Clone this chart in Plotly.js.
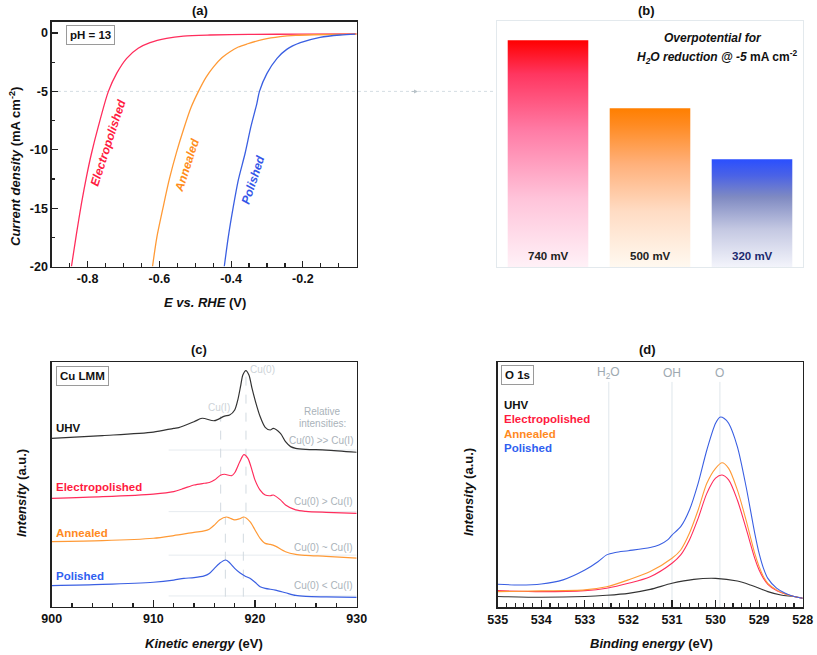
<!DOCTYPE html>
<html>
<head>
<meta charset="utf-8">
<script src="https://cdn.plot.ly/plotly-3.0.1.min.js"></script>
<style>
html,body{margin:0;padding:0;background:#fff;}
#chart{width:817px;height:655px;}
</style>
</head>
<body>
<div id="chart"></div>
<script>
// ---------- Panel (a): polarisation curves ----------
const aElectroE = [-0.845,-0.831,-0.817,-0.803,-0.789,-0.770,-0.742,-0.719,-0.691,-0.659,-0.626,-0.580,-0.533,-0.459,-0.350,-0.200,-0.050];
const aElectroJ = [-20,-17.2,-14.6,-12.3,-10.3,-8.0,-5.0,-3.46,-2.17,-1.31,-0.83,-0.46,-0.26,-0.17,-0.12,-0.10,-0.08];
const aAnnealE = [-0.619,-0.607,-0.590,-0.572,-0.552,-0.532,-0.512,-0.491,-0.470,-0.449,-0.425,-0.403,-0.380,-0.356,-0.310,-0.263,-0.220,-0.170,-0.050];
const aAnnealJ = [-20,-17.5,-15.0,-12.5,-10.2,-8.2,-6.4,-5.0,-3.8,-2.9,-2.1,-1.6,-1.2,-0.94,-0.54,-0.31,-0.20,-0.15,-0.10];
const aPolishE = [-0.419,-0.408,-0.394,-0.380,-0.361,-0.345,-0.328,-0.321,-0.300,-0.272,-0.245,-0.207,-0.152,-0.096,-0.054];
const aPolishJ = [-20,-17.5,-14.9,-12.6,-10.3,-8.04,-6.0,-5.0,-3.46,-2.17,-1.4,-0.83,-0.37,-0.17,-0.10];
const aXTickVals = [-0.8,-0.6,-0.4,-0.2];
const aXTickText = ['-0.8','-0.6','-0.4','-0.2'];
const aYTickVals = [-20,-15,-10,-5,0];
const aYTickText = ['-20','-15','-10','-5','0'];

// ---------- Panel (b): overpotential bars ----------
const bCategories = ['Electropolished','Annealed','Polished'];
const bValues = [740, 500, 320];
const bLabels = ['740 mV','500 mV','320 mV'];

// ---------- Panel (c): Cu LMM ----------
const cUhvX = [900,905,910,912,912.5,914,914.8,916,917,917.5,918,918.3,918.6,918.8,919.1,919.4,919.7,920,920.5,921,921.5,921.8,922.5,923,923.5,924,925,927,930];
const cUhvY = [68.9,70.0,71.4,73.0,73.3,75.7,77.1,76.1,78.0,78.4,80.5,84.5,90.7,94.8,96.6,94.8,89.4,84.6,77.8,73.4,72.3,73.0,70.9,67.5,65.5,64.8,64.4,64.1,63.2];
const cElX = [900,905,910,912,913,914,915,915.5,916,916.6,917,917.7,918,918.5,918.9,919.3,919.7,920,920.5,921,921.5,921.8,922.5,923,924,925,927,930];
const cElY = [44.3,45.0,46.1,47.1,48.4,49.8,50.5,50.8,51.8,53.8,54.2,53.6,54.8,59.3,62.2,60.7,55.9,51.8,47.7,45.7,45.4,45.7,43.7,41.6,39.6,39.0,38.6,38.2];
const cAnX = [900,905,910,912,914,915,915.5,916,916.5,917.2,917.5,918,918.5,918.9,919.5,920,920.5,921,921.5,922,923,924,925,927,930];
const cAnY = [26.6,27.0,28.0,29.1,30.4,31.0,31.7,33.4,35.5,36.7,36.3,35.5,36.0,36.7,34.8,31.4,28.0,25.9,25.5,24.8,22.5,21.4,21.0,20.6,19.9];
const cPoX = [900,905,910,912,913,914,915,915.5,916,916.5,917.1,917.5,918,918.5,919,919.5,920,920.5,921,922,923,924,925,927,930];
const cPoY = [8.6,9.1,10.0,10.9,11.6,11.9,12.6,13.6,15.7,17.7,19.1,18.0,15.7,13.9,12.6,11.6,10.0,8.2,7.5,6.8,5.7,4.6,4.2,4.0,3.8];
const cBaselines = [64.1, 38.9, 21.1, 4.4];
const cRatioText = ['Cu(0) >> Cu(I)','Cu(0) > Cu(I)','Cu(0) ~ Cu(I)','Cu(0) < Cu(I)'];
const cRatioY = [68.2, 43.0, 24.1, 8.6];
const cTickVals = [900,910,920,930];

// ---------- Panel (d): O 1s ----------
const dPoX = [535,534.5,534,533.5,533,532.7,532.5,532.3,532,531.5,531.3,531.1,531,530.8,530.6,530.4,530.2,530.0,529.9,529.8,529.7,529.5,529.3,529.1,529.0,528.9,528.8,528.6,528.4,528.2,528];
const dPoY = [9.4,9.1,9.5,11.2,15.2,18.6,21.4,22.4,23.1,24.4,25.4,27.5,29.5,32.9,39.7,50.6,64.2,75.1,77.6,77.1,75.1,65.6,49.3,30.2,22.0,15.9,11.8,7.8,5.7,4.4,3.7];
const dAnX = [535,534,533,532.5,532,531.5,531,530.8,530.6,530.4,530.2,530.0,529.85,529.7,529.5,529.3,529.1,529.0,528.9,528.8,528.6,528.4,528.2,528];
const dAnY = [6.4,6.7,7.1,8.4,11.2,14.6,20.0,23.4,30.2,39.7,50.6,56.7,59.0,56.7,47.9,35.6,22.0,16.6,12.5,9.8,7.1,5.4,4.4,3.7];
const dElX = [535,534,533,532.5,532,531.5,531,530.8,530.6,530.4,530.2,530.0,529.85,529.7,529.5,529.3,529.1,529.0,528.9,528.8,528.6,528.4,528.2,528];
const dElY = [6.8,6.4,6.8,7.8,9.8,12.5,18.0,21.4,27.5,36.3,46.5,52.7,54.0,52.0,43.8,32.2,20.0,15.2,11.8,9.4,6.8,5.4,4.4,3.7];
const dUhvX = [535,534,533,532.5,532,531.5,531,530.5,530,529.5,529.2,529,528.8,528.5,528.2,528];
const dUhvY = [4.4,4.1,4.4,4.9,5.7,7.3,9.8,11.4,11.8,10.7,9.1,7.8,6.4,5.0,4.4,3.7];
const dPeakNames = ['H<sub>2</sub>O','OH','O'];
const dPeakPos = [532.45, 531.0, 529.9];
const dTickVals = [535,534,533,532,531,530,529,528];

// ---------- colours ----------
const RED = '#ff2d5c', ORANGE = '#ff9a36', BLUE = '#3a5fe2', BLACK = '#333333';
const FONT = 'Liberation Sans, Arial, sans-serif';

const W = 817, H = 655;
const px = v => v / W;
const py = v => 1 - v / H;

const traces = [];
function line(x, y, color, xa, ya, width) {
  traces.push({type:'scatter', mode:'lines', x:x, y:y, xaxis:xa, yaxis:ya,
    line:{color:color, width:width||1.3, shape:'spline', smoothing:0.8}, hoverinfo:'skip', showlegend:false});
}
// (a)
line(aElectroE, aElectroJ, RED, 'x', 'y');
line(aAnnealE, aAnnealJ, ORANGE, 'x', 'y');
line(aPolishE, aPolishJ, BLUE, 'x', 'y');

// (b) bars as gradient-filled rectangles
const bBase = -60, halfW = 0.395;
const bScales = [
  [[0,'#fff1f7'],[0.3,'#ffc4da'],[0.6,'#ff7ca6'],[0.85,'#ff3660'],[1,'#ff0000']],
  [[0,'#fff9f0'],[0.35,'#ffdcc4'],[0.65,'#ffb07a'],[0.9,'#ff8a20'],[1,'#ff7f00']],
  [[0,'#f3f4fb'],[0.35,'#c4c8e2'],[0.65,'#7f8ac2'],[0.85,'#4a62e6'],[1,'#2a4fff']]
];
bValues.forEach((v, i) => {
  traces.push({type:'scatter', mode:'lines', xaxis:'x2', yaxis:'y2',
    x:[i-halfW, i+halfW, i+halfW, i-halfW, i-halfW],
    y:[bBase, bBase, v, v, bBase],
    fill:'toself', line:{width:0, color:'rgba(0,0,0,0)'},
    fillgradient:{type:'vertical', colorscale:bScales[i]},
    name:bCategories[i], hoverinfo:'skip', showlegend:false});
});

// (c)
line(cUhvX, cUhvY, BLACK, 'x3', 'y3', 1.2);
line(cElX, cElY, RED, 'x3', 'y3', 1.2);
line(cAnX, cAnY, ORANGE, 'x3', 'y3', 1.2);
line(cPoX, cPoY, BLUE, 'x3', 'y3', 1.2);

// (d)
line(dUhvX, dUhvY, BLACK, 'x4', 'y4', 1.1);
line(dElX, dElY, RED, 'x4', 'y4', 1.1);
line(dAnX, dAnY, ORANGE, 'x4', 'y4', 1.1);
line(dPoX, dPoY, BLUE, 'x4', 'y4', 1.1);

const tickFont = {family:FONT, size:12.5, color:'#111', weight:'bold'};
function frameAxis(extra) {
  return Object.assign({showline:true, linecolor:'#222', linewidth:1.3, mirror:true,
    showgrid:false, zeroline:false, ticks:'inside', tickcolor:'#222', tickwidth:1.2,
    tickfont:tickFont, fixedrange:true}, extra);
}

const shapes = [];
const annotations = [];
function ann(o) {
  annotations.push(Object.assign({showarrow:false, xanchor:'center', yanchor:'middle'}, o));
}

// dotted -5 mA reference line from (a) to (b)
shapes.push({type:'line', xref:'paper', yref:'y', x0:px(52), x1:px(497), y0:-5, y1:-5,
  line:{color:'#d4dde3', width:1, dash:'dot'}, layer:'below'});
annotations.push({xref:'paper', yref:'paper', x:px(418), y:py(91.5), ax:-8, ay:0,
  showarrow:true, arrowhead:2, arrowsize:0.8, arrowwidth:1, arrowcolor:'#b8c2c8', text:''});

// (c) baselines and dashed reference lines
cBaselines.forEach(b => shapes.push({type:'line', xref:'x3', yref:'y3', x0:911.5, x1:930, y0:b, y1:b,
  line:{color:'#e6ebef', width:1}, layer:'below'}));
const dashC = {color:'#d2dae0', width:1, dash:'dash'};
shapes.push({type:'line', xref:'x3', yref:'y3', x0:916.62, x1:916.62, y0:38.9, y1:78, line:dashC, layer:'below'});
shapes.push({type:'line', xref:'x3', yref:'y3', x0:917.08, x1:917.08, y0:4.1, y1:36.8, line:dashC, layer:'below'});
shapes.push({type:'line', xref:'x3', yref:'y3', x0:919.11, x1:919.11, y0:38.9, y1:95.5, line:dashC, layer:'below'});
shapes.push({type:'line', xref:'x3', yref:'y3', x0:918.85, x1:918.85, y0:4.1, y1:36.8, line:dashC, layer:'below'});

// (d) peak position lines
dPeakPos.forEach((p, i) => {
  shapes.push({type:'line', xref:'x4', yref:'y4', x0:p, x1:p, y0:0, y1:92,
    line:{color:'#dfe6eb', width:1}, layer:'below'});
  ann({xref:'x4', yref:'y4', x:p, y:95.6, text:dPeakNames[i],
    font:{family:FONT, size:12, color:'#9ea9b1'}});
});

function txt(x, y, text, opts) {
  ann(Object.assign({xref:'paper', yref:'paper', x:px(x), y:py(y), text:text,
    font:{family:FONT, size:13, color:'#111', weight:'bold'}}, opts||{}));
}
// panel titles
txt(200, 10, '(a)');
txt(646, 10, '(b)');
txt(199, 349, '(c)');
txt(647, 349, '(d)');

// axis titles
txt(15, 167, '<i>Current density</i> (mA cm<sup>-2</sup>)', {textangle:-90});
txt(205, 302, '<i>E vs. RHE</i> (V)');
txt(21, 493, '<i>Intensity</i> (a.u.)', {textangle:-90});
txt(204, 643, '<i>Kinetic energy</i> (eV)');
txt(468, 492, '<i>Intensity</i> (a.u.)', {textangle:-90});
txt(651, 643, '<i>Binding energy</i> (eV)');

// boxed labels
const boxOpt = {bordercolor:'#9a9a9a', borderwidth:1, borderpad:3, bgcolor:'#fff',
  font:{family:FONT, size:11.5, color:'#111', weight:'bold'}};
txt(90.5, 35, 'pH = 13', boxOpt);
txt(82.5, 375.5, 'Cu LMM', boxOpt);
txt(517.5, 375, 'O 1s', boxOpt);

// (a) curve labels
const rotFont = c => ({family:FONT, size:12, color:c, weight:'bold', style:'italic'});
txt(108, 143, 'Electropolished', {textangle:-72, font:rotFont('#ff1a40')});
txt(187, 165, 'Annealed', {textangle:-72, font:rotFont('#ff8c1a')});
txt(253, 180, 'Polished', {textangle:-72, font:rotFont('#3355e8')});

// (b) texts
txt(713, 38, '<i>Overpotential for</i>', {font:{family:FONT, size:12, color:'#111', weight:'bold'}});
txt(717, 57, '<i>H<sub>2</sub>O reduction @ -5</i> mA cm<sup>-2</sup>', {font:{family:FONT, size:12, color:'#111', weight:'bold'}});
const bLabelColors = ['#222222','#222222','#1c2a6e'];
bLabels.forEach((l, i) => ann({xref:'x2', yref:'paper', x:i, y:py(256), text:l,
  font:{family:FONT, size:11.5, color:bLabelColors[i], weight:'bold'}}));

// (c) series labels and notes
const serFont = c => ({family:FONT, size:11.5, color:c, weight:'bold'});
const cNames = ['UHV','Electropolished','Annealed','Polished'];
const cNameY = [73.0, 49.1, 30.0, 12.7];
const nameColors = ['#111111','#ff1a40','#ff8a1e','#2f5ff0'];
cNames.forEach((n, i) => ann({xref:'x3', yref:'y3', x:900.25, y:cNameY[i], text:n,
  xanchor:'left', font:serFont(nameColors[i])}));
const noteFont = {family:FONT, size:10, color:'#aab3ba'};
cRatioText.forEach((t, i) => ann({xref:'x3', yref:'y3', x:929.8, y:cRatioY[i],
  text:t.replace('>>','&gt;&gt;').replace('>','&gt;').replace('<','&lt;'), xanchor:'right', font:noteFont}));
ann({xref:'x3', yref:'y3', x:926.6, y:79.8, text:'Relative', font:noteFont});
ann({xref:'x3', yref:'y3', x:926.6, y:75.0, text:'intensities:', font:noteFont});
ann({xref:'x3', yref:'y3', x:920.7, y:96.9, text:'Cu(0)', font:{family:FONT, size:10, color:'#cdd3d8'}});
ann({xref:'x3', yref:'y3', x:916.5, y:81.6, text:'Cu(I)', font:{family:FONT, size:10, color:'#cdd3d8'}});

// (d) legend text
cNames.forEach((n, i) => ann({xref:'paper', yref:'paper', x:px(502), y:py(405 + i*14.3), text:n,
  xanchor:'left', font:serFont(nameColors[i])}));

const layout = {
  width:W, height:H, margin:{l:0, r:0, t:0, b:0},
  paper_bgcolor:'#fff', plot_bgcolor:'rgba(0,0,0,0)', showlegend:false,
  font:{family:FONT},
  xaxis: frameAxis({domain:[px(51.7), px(356.7)], anchor:'y', range:[-0.9,-0.05],
    tickvals:aXTickVals, ticktext:aXTickText, ticklen:6,
    minor:{dtick:0.05, tick0:-0.9, ticks:'inside', ticklen:3.5, tickcolor:'#222'}}),
  yaxis: frameAxis({domain:[py(266.5), py(21.7)], anchor:'x', range:[-20, 0.97],
    tickvals:aYTickVals, ticktext:aYTickText, ticklen:6,
    minor:{dtick:2.5, tick0:0, ticks:'inside', ticklen:3.5, tickcolor:'#222'}}),
  xaxis2: {domain:[px(497), px(803)], anchor:'y2', range:[-0.5, 2.5], showline:true, mirror:true,
    linecolor:'#e3e9ed', linewidth:1, showgrid:false, zeroline:false, showticklabels:false, ticks:'', fixedrange:true},
  yaxis2: {domain:[py(267), py(21)], anchor:'x2', range:[bBase, 808], showline:true, mirror:true,
    linecolor:'#e3e9ed', linewidth:1, showgrid:false, zeroline:false, showticklabels:false, ticks:'', fixedrange:true},
  xaxis3: frameAxis({domain:[px(51.7), px(356.7)], anchor:'y3', range:[900, 930],
    tickvals:cTickVals, ticklen:7,
    minor:{dtick:2, tick0:900, ticks:'inside', ticklen:4, tickcolor:'#222'}}),
  yaxis3: frameAxis({domain:[py(606.7), py(362.3)], anchor:'x3', range:[0, 100],
    showticklabels:false, ticks:''}),
  xaxis4: frameAxis({domain:[px(497.7), px(802.7)], anchor:'y4', range:[535, 528],
    tickvals:dTickVals, ticklen:7,
    minor:{dtick:0.2, tick0:528, ticks:'inside', ticklen:4, tickcolor:'#222'}}),
  yaxis4: frameAxis({domain:[py(607.3), py(362.3)], anchor:'x4', range:[0, 100],
    showticklabels:false, ticks:''}),
  shapes:shapes, annotations:annotations
};

Plotly.newPlot('chart', traces, layout, {staticPlot:true, displayModeBar:false});
</script>
</body>
</html>
